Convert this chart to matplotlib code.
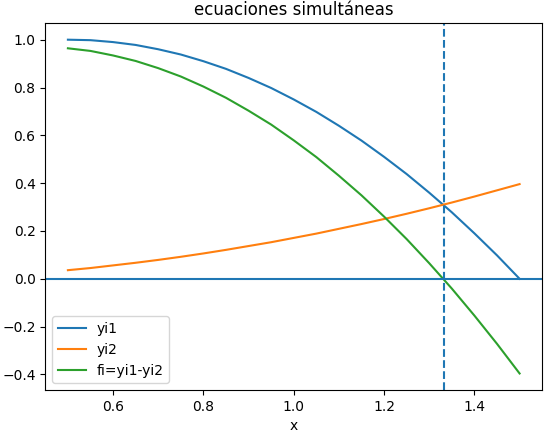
import numpy as np
import matplotlib
matplotlib.use("Agg")
import matplotlib.pyplot as plt

# valores
x = [0.50, 0.55, 0.60, 0.65, 0.70, 0.75, 0.80, 0.85, 0.90, 0.95, 1.00,
     1.05, 1.10, 1.15, 1.20, 1.25, 1.30, 1.35, 1.40, 1.45, 1.50]
yi1 = [1.000, 0.998, 0.990, 0.978, 0.960, 0.938, 0.910, 0.878, 0.840, 0.798, 0.750,
       0.698, 0.640, 0.578, 0.510, 0.438, 0.360, 0.278, 0.190, 0.098, 0.000]
yi2 = [0.036, 0.045, 0.056, 0.067, 0.079, 0.092, 0.106, 0.121, 0.137, 0.153, 0.171,
       0.189, 0.209, 0.229, 0.250, 0.272, 0.295, 0.319, 0.344, 0.370, 0.396]
fi = [0.964, 0.953, 0.934, 0.911, 0.881, 0.846, 0.804, 0.757, 0.703, 0.645, 0.579,
      0.509, 0.431, 0.349, 0.260, 0.166, 0.065, -0.041, -0.154, -0.272, -0.396]
raiz = 1.333

fig = plt.figure(figsize=(5.46, 4.34), dpi=100)
plt.subplots_adjust(left=0.083, right=0.993, top=0.947, bottom=0.101)

plt.plot(x, yi1, label='yi1')
plt.plot(x, yi2, label='yi2')
plt.plot(x, fi, label='fi=yi1-yi2')
plt.axhline(0)
plt.axvline(raiz, linestyle='dashed')
plt.title('ecuaciones simultáneas')
plt.xlabel('x')
plt.legend(loc='lower left')

plt.savefig('out.png')
